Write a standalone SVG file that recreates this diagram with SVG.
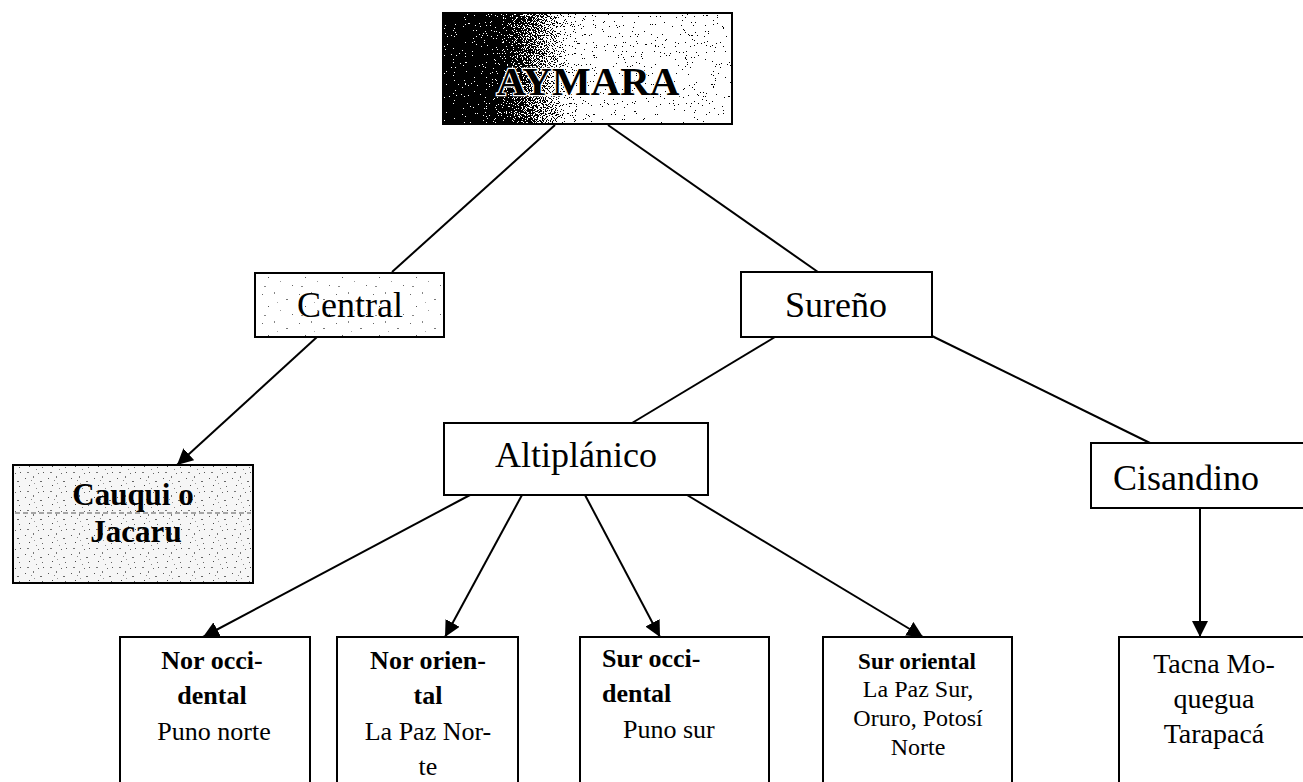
<svg xmlns="http://www.w3.org/2000/svg" width="1303" height="782" viewBox="0 0 1303 782">
<style>
.box{fill:#fff;stroke:#000;stroke-width:2}
.t{font-family:"Liberation Serif","Times New Roman",serif;fill:#000}
.c{text-anchor:middle}
.b{font-weight:bold}
.ln{stroke:#000;stroke-width:2;fill:none}
</style>
<defs>
<linearGradient id="dark" gradientUnits="userSpaceOnUse" x1="443" y1="0" x2="585" y2="0">
<stop offset="0" stop-color="#000"/>
<stop offset="0.4" stop-color="#151515"/>
<stop offset="0.65" stop-color="#707070"/>
<stop offset="0.85" stop-color="#d0d0d0"/>
<stop offset="1" stop-color="#fff"/>
</linearGradient>
<filter id="dither" x="0" y="0" width="1" height="1" color-interpolation-filters="sRGB">
<feTurbulence type="fractalNoise" baseFrequency="0.9" numOctaves="2" seed="7" result="n"/>
<feColorMatrix in="n" type="matrix" values="1 0 0 0 0  1 0 0 0 0  1 0 0 0 0  0 0 0 0 1" result="g"/>
<feComposite in="SourceGraphic" in2="g" operator="arithmetic" k1="0" k2="1" k3="2.2" k4="-1.1" result="m"/>
<feComponentTransfer in="m">
<feFuncR type="discrete" tableValues="0 1"/>
<feFuncG type="discrete" tableValues="0 1"/>
<feFuncB type="discrete" tableValues="0 1"/>
<feFuncA type="linear" slope="0" intercept="1"/>
</feComponentTransfer>
</filter>
<pattern id="stip" patternUnits="userSpaceOnUse" width="37" height="29">
<rect width="37" height="29" fill="#fff"/>
<rect x="3" y="4" width="1" height="1" fill="#666"/>
<rect x="15" y="2" width="1" height="2" fill="#888"/>
<rect x="27" y="9" width="2" height="1" fill="#777"/>
<rect x="9" y="16" width="1" height="1" fill="#555"/>
<rect x="21" y="20" width="1" height="1" fill="#999"/>
<rect x="33" y="24" width="1" height="1" fill="#666"/>
<rect x="5" y="25" width="2" height="1" fill="#888"/>
<rect x="18" y="12" width="1" height="1" fill="#aaa"/>
</pattern>
<pattern id="stip2" patternUnits="userSpaceOnUse" width="23" height="19">
<rect width="23" height="19" fill="#f6f6f6"/>
<rect x="2" y="3" width="1" height="1" fill="#555"/>
<rect x="10" y="1" width="1" height="2" fill="#777"/>
<rect x="17" y="6" width="2" height="1" fill="#666"/>
<rect x="6" y="10" width="1" height="1" fill="#444"/>
<rect x="13" y="13" width="1" height="1" fill="#888"/>
<rect x="20" y="16" width="1" height="1" fill="#555"/>
<rect x="4" y="16" width="2" height="1" fill="#777"/>
<rect x="11" y="8" width="1" height="1" fill="#999"/>
<rect x="19" y="11" width="1" height="1" fill="#666"/>
<rect x="8" y="5" width="1" height="1" fill="#888"/>
<rect x="15" y="17" width="1" height="1" fill="#666"/>
</pattern>
<marker id="arr" markerUnits="userSpaceOnUse" markerWidth="18" markerHeight="16" refX="16" refY="8" orient="auto">
<path d="M0,0 L16,8 L0,16 Z" fill="#000"/>
</marker>
</defs>

<g id="connectors">
<line class="ln" x1="555" y1="125" x2="392" y2="272"/>
<line class="ln" x1="608" y1="125" x2="818" y2="272"/>
<line class="ln" x1="317" y1="337" x2="177" y2="465" marker-end="url(#arr)"/>
<line class="ln" x1="775" y1="337" x2="632" y2="423"/>
<line class="ln" x1="932" y1="336" x2="1150" y2="443"/>
<line class="ln" x1="470" y1="495" x2="203" y2="637" marker-end="url(#arr)"/>
<line class="ln" x1="522" y1="495" x2="445" y2="637" marker-end="url(#arr)"/>
<line class="ln" x1="585" y1="495" x2="660" y2="637" marker-end="url(#arr)"/>
<line class="ln" x1="687" y1="495" x2="923" y2="637" marker-end="url(#arr)"/>
<line class="ln" x1="1200" y1="508" x2="1200" y2="637" marker-end="url(#arr)"/>
</g>

<g id="aymara">
<rect class="box" x="443" y="13" width="289" height="111"/>
<rect x="444" y="14" width="287" height="109" fill="url(#dark)" filter="url(#dither)"/>
<text class="t c b" x="588" y="95" font-size="41" stroke="#fff" stroke-width="2.5" paint-order="stroke">AYMARA</text>
</g>

<g id="central">
<rect x="255" y="273" width="189" height="64" fill="url(#stip)" stroke="#000" stroke-width="2"/>
<text class="t c" x="350" y="317" font-size="36">Central</text>
</g>

<g id="sureno">
<rect class="box" x="741" y="272" width="191" height="65"/>
<text class="t c" x="836" y="317" font-size="36">Sureño</text>
</g>

<g id="cauqui">
<rect x="13" y="465" width="240" height="118" fill="url(#stip2)" stroke="#000" stroke-width="2"/>
<line x1="15" y1="513" x2="251" y2="513" stroke="#555" stroke-width="1" stroke-dasharray="5 3"/>
<text class="t c b" x="133" y="505" font-size="31">Cauqui o</text>
<text class="t c b" x="136" y="542" font-size="31">Jacaru</text>
</g>

<g id="altiplanico">
<rect class="box" x="444" y="423" width="264" height="72"/>
<text class="t c" x="576" y="467" font-size="36">Altiplánico</text>
</g>

<g id="cisandino">
<rect class="box" x="1091" y="443" width="214" height="65"/>
<text class="t" x="1113" y="490" font-size="36">Cisandino</text>
</g>

<g id="nor-occidental">
<rect class="box" x="120" y="637" width="190" height="160"/>
<text class="t c b" x="212" y="669" font-size="26">Nor occi-</text>
<text class="t c b" x="212" y="704" font-size="26">dental</text>
<text class="t c" x="214" y="740" font-size="26">Puno norte</text>
</g>

<g id="nor-oriental">
<rect class="box" x="337" y="637" width="181" height="160"/>
<text class="t c b" x="428" y="669" font-size="26">Nor orien-</text>
<text class="t c b" x="428" y="704" font-size="26">tal</text>
<text class="t c" x="428" y="740" font-size="26">La Paz Nor-</text>
<text class="t c" x="428" y="775" font-size="26">te</text>
</g>

<g id="sur-occidental">
<rect class="box" x="580" y="637" width="189" height="160"/>
<text class="t b" x="602" y="667" font-size="26">Sur occi-</text>
<text class="t b" x="602" y="702" font-size="26">dental</text>
<text class="t" x="623" y="738" font-size="26">Puno sur</text>
</g>

<g id="sur-oriental">
<rect class="box" x="823" y="637" width="189" height="160"/>
<text class="t c b" x="917" y="669" font-size="23">Sur oriental</text>
<text class="t c" x="918" y="697" font-size="24">La Paz Sur,</text>
<text class="t c" x="918" y="726" font-size="24">Oruro, Potosí</text>
<text class="t c" x="918" y="755" font-size="24">Norte</text>
</g>

<g id="tacna">
<rect class="box" x="1119" y="637" width="190" height="160"/>
<text class="t c" x="1214" y="673" font-size="28">Tacna Mo-</text>
<text class="t c" x="1214" y="708" font-size="28">quegua</text>
<text class="t c" x="1214" y="743" font-size="28">Tarapacá</text>
</g>
</svg>
